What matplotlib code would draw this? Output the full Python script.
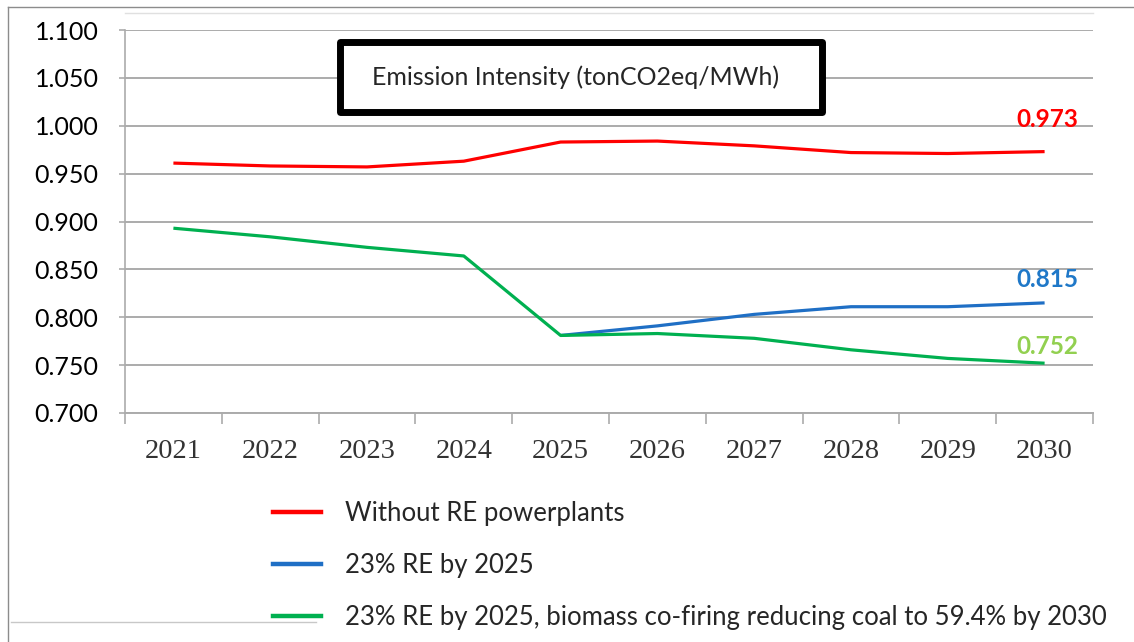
import matplotlib
matplotlib.use('Agg')
import numpy as np
import matplotlib.pyplot as plt
from matplotlib.lines import Line2D
from matplotlib.patches import Rectangle

# data
years = ['2021', '2022', '2023', '2024', '2025', '2026', '2027', '2028', '2029', '2030']
without_re = [0.961, 0.958, 0.957, 0.963, 0.983, 0.984, 0.979, 0.972, 0.971, 0.973]
re_23 = [np.nan, np.nan, np.nan, np.nan, 0.781, 0.791, 0.803, 0.811, 0.811, 0.815]
re_23_biomass = [0.893, 0.884, 0.873, 0.864, 0.781, 0.783, 0.778, 0.766, 0.757, 0.752]

series_names = ['Without RE powerplants',
                '23% RE by 2025',
                '23% RE by 2025, biomass co-firing reducing coal to 59.4% by 2030']
end_labels = ['0.973', '0.815', '0.752']

plt.rcParams['font.family'] = ['Lato', 'DejaVu Sans']

W, H = 1134, 642
fig = plt.figure(figsize=(W / 100, H / 100), dpi=100)
fig.patch.set_facecolor('white')

# plot area in pixel terms
x0, x1, y0, y1 = 125, 1093, 30, 413
ax = fig.add_axes([x0 / W, 1 - y1 / H, (x1 - x0) / W, (y1 - y0) / H])

x = np.arange(len(years))
line_colors = ['#FF0000', '#1F6FC5', '#00B050']
label_colors = ['#FF0000', '#1F78C8', '#92D050']
label_offsets = [32, 23, 17]

ax.plot(x, without_re, color=line_colors[0], lw=2.3, solid_capstyle='butt', zorder=3)
ax.plot(x, re_23, color=line_colors[1], lw=2.3, solid_capstyle='butt', zorder=3)
ax.plot(x, re_23_biomass, color=line_colors[2], lw=2.3, solid_capstyle='butt', zorder=3)

for vals, txt, c, off in zip([without_re, re_23, re_23_biomass], end_labels, label_colors, label_offsets):
    ax.annotate(txt, (x[-1], vals[-1]), xytext=(3, off), textcoords='offset pixels',
                ha='center', va='center', fontsize=17.5, color=c, fontweight='bold')

ax.set_xlim(-0.5, len(years) - 0.5)
ax.set_ylim(0.7, 1.1)
ax.set_yticks(np.arange(0.7, 1.1001, 0.05))
ax.set_yticklabels(['{:.3f}'.format(v) for v in np.arange(0.7, 1.1001, 0.05)],
                   fontsize=18, color='black')
ax.set_xticks(x)
ax.set_xticklabels(years, family=['Liberation Serif'], fontsize=20.5, color='#333333')
ax.set_xticks(np.arange(-0.5, len(years), 1.0), minor=True)

ax.grid(axis='y', color='#ABABAB', lw=1.4)
ax.set_axisbelow(True)
ax.tick_params(axis='x', which='major', length=0, pad=18.5)
ax.tick_params(axis='x', which='minor', length=8, width=1.2, color='#ABABAB', direction='out')
ax.tick_params(axis='y', length=4, width=1.2, color='#ABABAB', pad=15)

for s in ['top', 'right']:
    ax.spines[s].set_visible(False)
ax.spines['left'].set_color('#ABABAB')
ax.spines['bottom'].set_color('#ABABAB')
ax.spines['left'].set_linewidth(1.2)
ax.spines['bottom'].set_linewidth(1.4)

# title box
box_l, box_r, box_t, box_b = 340, 822, 42, 112
fig.add_artist(Rectangle((box_l / W, 1 - box_b / H), (box_r - box_l) / W, (box_b - box_t) / H,
                         transform=fig.transFigure, facecolor='white', edgecolor='black',
                         lw=5, joinstyle='round', zorder=5))
fig.text(576 / W, 1 - (box_t + box_b) / 2 / H,
         'Emission Intensity (tonCO2eq/MWh)', ha='center', va='center',
         fontsize=18, color='#262626', zorder=6)

# legend under the plot
handles = [Line2D([], [], color=c, lw=3.2) for c in line_colors]
fig.legend(handles, series_names, loc='upper left', bbox_to_anchor=(250 / W, 1 - 478 / H),
           frameon=False, fontsize=18.5, handlelength=1.85, handletextpad=0.95,
           labelspacing=1.05, labelcolor='#262626')

# screenshot frame lines
fig.add_artist(Line2D([8 / W, 8 / W], [0, 1 - 7 / H], transform=fig.transFigure, color='#8C8C8C', lw=1))
fig.add_artist(Line2D([8 / W, 1], [1 - 7 / H, 1 - 7 / H], transform=fig.transFigure, color='#8C8C8C', lw=1))
fig.add_artist(Line2D([x0 / W, x1 / W], [1 - 13 / H, 1 - 13 / H], transform=fig.transFigure, color='#E0E0E0', lw=1))
fig.add_artist(Line2D([11 / W, 316 / W], [1 - 622 / H, 1 - 622 / H], transform=fig.transFigure, color='#C8C8C8', lw=1))

fig.savefig('out.png', dpi=100)
